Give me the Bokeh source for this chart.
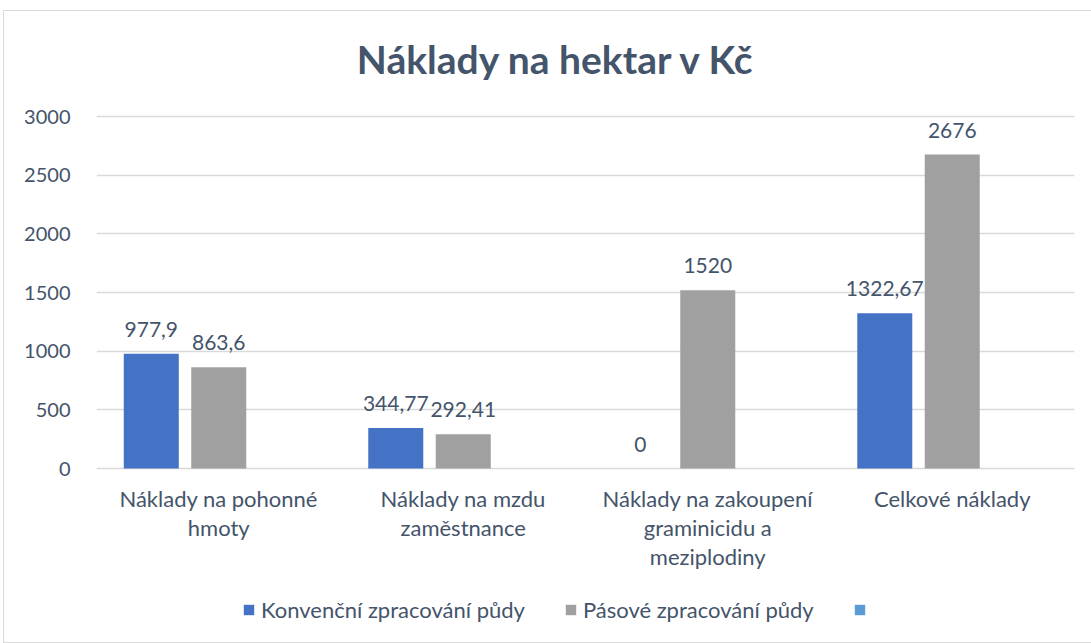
from bokeh.plotting import figure
from bokeh.models import ColumnDataSource, FactorRange, LabelSet, Label, Legend, LegendItem, FixedTicker
from bokeh.core.properties import value
from bokeh.transform import dodge
from bokeh.embed import file_html
from bokeh.resources import INLINE

categories = ["Náklady na pohonné\nhmoty", "Náklady na mzdu\nzaměstnance",
              "Náklady na zakoupení\ngraminicidu a\nmeziplodiny", "Celkové náklady"]
konvencni = [977.9, 344.77, 0, 1322.67]
pasove = [863.6, 292.41, 1520, 2676]
treti = [None, None, None, None]
series_names = ["Konvenční zpracování půdy", "Pásové zpracování půdy", " "]
y_ticks = [0, 500, 1000, 1500, 2000, 2500, 3000]
title_text = "Náklady na hektar v Kč"

TXT = "#44546A"
FONT = "Lato"

def fmt(v):
    return f"{v:g}".replace(".", ",")

# each category label line as its own column so every line is centred
lines = [c.split("\n") for c in categories]
n_lines = max(len(l) for l in lines)
line_cols = {f"line{i}": [l[i] if i < len(l) else "" for l in lines] for i in range(n_lines)}

src = ColumnDataSource(dict(
    cat=categories, k=konvencni, p=pasove, t=[float("nan")] * 4,
    kl=[fmt(v) for v in konvencni], pl=[fmt(v) for v in pasove],
    base=[0] * 4, **line_cols))

# frame: title room above, value area, room below for category labels and legend
ABOVE_PX = 105
VALUE_PX = 352
BELOW_PX = 174
y_top = y_ticks[-1]
px_unit = y_top / VALUE_PX
y_min = -BELOW_PX * px_unit
y_max = y_top + ABOVE_PX * px_unit

p = figure(x_range=FactorRange(*categories), y_range=(y_min, y_max),
           frame_width=978, frame_height=ABOVE_PX + VALUE_PX + BELOW_PX,
           output_backend="svg", toolbar_location=None,
           min_border_left=92, min_border_right=18, min_border_top=0, min_border_bottom=0)
p.margin = (10, 0, 0, 3)
p.styles = {"border": "1px solid #D9D9D9"}
p.outline_line_color = None
p.background_fill_color = "white"

title = Label(x=len(categories) / 2, y=y_top, text=title_text, x_offset=-29, y_offset=58,
              text_align="center", text_baseline="middle",
              text_font=FONT, text_font_size="39px", text_font_style="bold", text_color=TXT)
p.add_layout(title)

w = 0.225
off = 0.276
r1 = p.vbar(x=dodge("cat", -off, range=p.x_range), top="k", width=w, source=src,
            fill_color="#4472C4", line_color=None)
r2 = p.vbar(x=dodge("cat", 0, range=p.x_range), top="p", width=w, source=src,
            fill_color="#A0A0A0", line_color=None)
r3 = p.vbar(x=dodge("cat", off, range=p.x_range), top="t", width=w, source=src,
            fill_color="#5B9BD5", line_color=None)

for col, lab, o in (("k", "kl", -off), ("p", "pl", 0)):
    ls = LabelSet(x=dodge("cat", o, range=p.x_range), y=col, text=lab, source=src,
                  text_align="center", text_baseline="alphabetic", y_offset=17,
                  text_font=value(FONT), text_font_size=value("21px"), text_color=TXT)
    p.add_layout(ls)

for i in range(n_lines):
    cl = LabelSet(x="cat", y="base", text=f"line{i}", source=src,
                  text_align="center", text_baseline="top", y_offset=-16 - 29 * i,
                  text_font=value(FONT), text_font_size=value("22px"), text_color=TXT)
    p.add_layout(cl)

p.yaxis.ticker = FixedTicker(ticks=y_ticks)
p.yaxis.axis_line_color = None
p.yaxis.major_tick_line_color = None
p.yaxis.minor_tick_line_color = None
p.yaxis.major_label_text_font = FONT
p.yaxis.major_label_text_font_size = "20px"
p.yaxis.major_label_text_color = TXT
p.yaxis.major_label_standoff = 20

p.xaxis.visible = False
p.xgrid.grid_line_color = None
p.ygrid.grid_line_color = "#D9D9D9"
p.ygrid.grid_line_width = 1.5

legend = Legend(items=[LegendItem(label=series_names[0], renderers=[r1]),
                       LegendItem(label=series_names[1], renderers=[r2]),
                       LegendItem(label=series_names[2], renderers=[r3])],
                orientation="horizontal", location=(146, 19),
                padding=0, margin=0, spacing=39, label_standoff=6,
                glyph_width=13, glyph_height=13,
                border_line_color=None, background_fill_alpha=0,
                label_text_font=FONT, label_text_font_size="22px", label_text_color=TXT)
p.add_layout(legend, "center")

open("out.html", "w").write(file_html(p, INLINE))
